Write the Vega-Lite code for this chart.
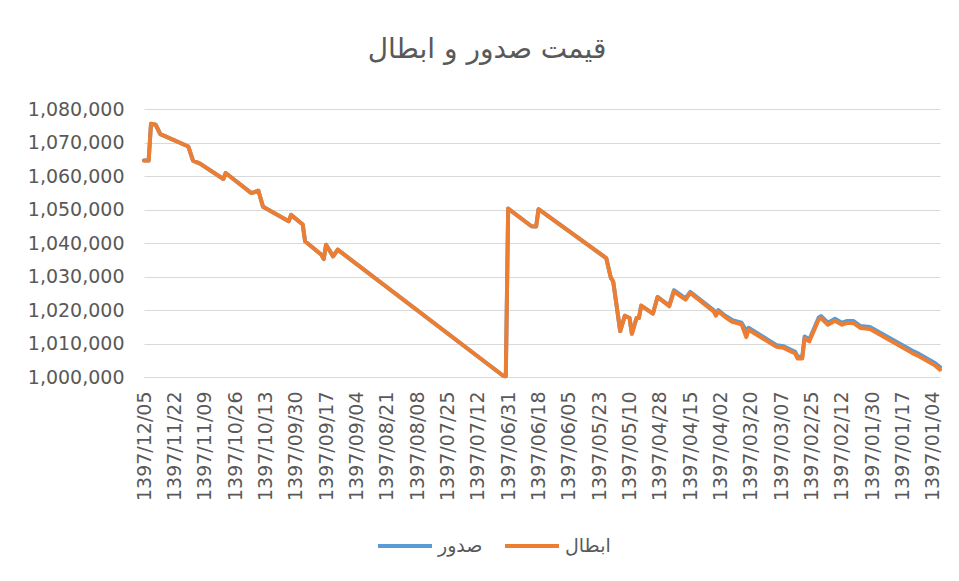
{
  "$schema": "https://vega.github.io/schema/vega-lite/v6.json",
  "autosize": {"type": "none"},
  "padding": {"left": 144, "top": 109, "right": 19, "bottom": 204},
  "width": 796,
  "height": 268,
  "background": "white",
  "title": {
    "text": "قیمت صدور و ابطال",
    "font": "DejaVu Sans",
    "fontSize": 28,
    "fontWeight": "normal",
    "color": "#595959",
    "anchor": "middle",
    "dx": -55,
    "offset": 36
  },
  "datasets": {
    "prices": [
      {"day": 342, "series": "صدور", "price": 1064600},
      {"day": 340, "series": "صدور", "price": 1064600},
      {"day": 339, "series": "صدور", "price": 1075600},
      {"day": 337, "series": "صدور", "price": 1075300},
      {"day": 335, "series": "صدور", "price": 1072500},
      {"day": 323, "series": "صدور", "price": 1068800},
      {"day": 321, "series": "صدور", "price": 1064600},
      {"day": 318, "series": "صدور", "price": 1063700},
      {"day": 308, "series": "صدور", "price": 1059100},
      {"day": 307, "series": "صدور", "price": 1060900},
      {"day": 296, "series": "صدور", "price": 1054900},
      {"day": 293, "series": "صدور", "price": 1055600},
      {"day": 291, "series": "صدور", "price": 1050800},
      {"day": 280, "series": "صدور", "price": 1046500},
      {"day": 279, "series": "صدور", "price": 1048400},
      {"day": 274, "series": "صدور", "price": 1045500},
      {"day": 273, "series": "صدور", "price": 1040500},
      {"day": 266, "series": "صدور", "price": 1036500},
      {"day": 265, "series": "صدور", "price": 1035200},
      {"day": 264, "series": "صدور", "price": 1039500},
      {"day": 261, "series": "صدور", "price": 1036000},
      {"day": 259, "series": "صدور", "price": 1038000},
      {"day": 188, "series": "صدور", "price": 1000300},
      {"day": 187, "series": "صدور", "price": 1000200},
      {"day": 186, "series": "صدور", "price": 1050300},
      {"day": 176, "series": "صدور", "price": 1045000},
      {"day": 174, "series": "صدور", "price": 1044900},
      {"day": 173, "series": "صدور", "price": 1050100},
      {"day": 144, "series": "صدور", "price": 1035500},
      {"day": 142, "series": "صدور", "price": 1029600},
      {"day": 141, "series": "صدور", "price": 1028500},
      {"day": 138, "series": "صدور", "price": 1013700},
      {"day": 136, "series": "صدور", "price": 1018300},
      {"day": 134, "series": "صدور", "price": 1017600},
      {"day": 133, "series": "صدور", "price": 1012900},
      {"day": 131, "series": "صدور", "price": 1017600},
      {"day": 130, "series": "صدور", "price": 1017600},
      {"day": 129, "series": "صدور", "price": 1021300},
      {"day": 124, "series": "صدور", "price": 1018900},
      {"day": 122, "series": "صدور", "price": 1023900},
      {"day": 117, "series": "صدور", "price": 1021300},
      {"day": 115, "series": "صدور", "price": 1025900},
      {"day": 110, "series": "صدور", "price": 1023500},
      {"day": 108, "series": "صدور", "price": 1025400},
      {"day": 98, "series": "صدور", "price": 1020000},
      {"day": 97, "series": "صدور", "price": 1018800},
      {"day": 96, "series": "صدور", "price": 1020000},
      {"day": 93, "series": "صدور", "price": 1018300},
      {"day": 90, "series": "صدور", "price": 1017000},
      {"day": 86, "series": "صدور", "price": 1016200},
      {"day": 84, "series": "صدور", "price": 1013800},
      {"day": 83, "series": "صدور", "price": 1014700},
      {"day": 71, "series": "صدور", "price": 1009500},
      {"day": 68, "series": "صدور", "price": 1009200},
      {"day": 63, "series": "صدور", "price": 1007500},
      {"day": 62, "series": "صدور", "price": 1006000},
      {"day": 60, "series": "صدور", "price": 1006100},
      {"day": 59, "series": "صدور", "price": 1012100},
      {"day": 57, "series": "صدور", "price": 1011200},
      {"day": 53, "series": "صدور", "price": 1017700},
      {"day": 52, "series": "صدور", "price": 1018200},
      {"day": 49, "series": "صدور", "price": 1016200},
      {"day": 46, "series": "صدور", "price": 1017400},
      {"day": 43, "series": "صدور", "price": 1016200},
      {"day": 41, "series": "صدور", "price": 1016700},
      {"day": 38, "series": "صدور", "price": 1016700},
      {"day": 35, "series": "صدور", "price": 1015200},
      {"day": 31, "series": "صدور", "price": 1014900},
      {"day": 13, "series": "صدور", "price": 1007900},
      {"day": 10, "series": "صدور", "price": 1006900},
      {"day": 3, "series": "صدور", "price": 1004100},
      {"day": 1, "series": "صدور", "price": 1003000},

      {"day": 342, "series": "ابطال", "price": 1064600},
      {"day": 340, "series": "ابطال", "price": 1064600},
      {"day": 339, "series": "ابطال", "price": 1075600},
      {"day": 337, "series": "ابطال", "price": 1075300},
      {"day": 335, "series": "ابطال", "price": 1072500},
      {"day": 323, "series": "ابطال", "price": 1068800},
      {"day": 321, "series": "ابطال", "price": 1064600},
      {"day": 318, "series": "ابطال", "price": 1063700},
      {"day": 308, "series": "ابطال", "price": 1059100},
      {"day": 307, "series": "ابطال", "price": 1060900},
      {"day": 296, "series": "ابطال", "price": 1054900},
      {"day": 293, "series": "ابطال", "price": 1055600},
      {"day": 291, "series": "ابطال", "price": 1050800},
      {"day": 280, "series": "ابطال", "price": 1046500},
      {"day": 279, "series": "ابطال", "price": 1048400},
      {"day": 274, "series": "ابطال", "price": 1045500},
      {"day": 273, "series": "ابطال", "price": 1040500},
      {"day": 266, "series": "ابطال", "price": 1036500},
      {"day": 265, "series": "ابطال", "price": 1035200},
      {"day": 264, "series": "ابطال", "price": 1039500},
      {"day": 261, "series": "ابطال", "price": 1036000},
      {"day": 259, "series": "ابطال", "price": 1038000},
      {"day": 188, "series": "ابطال", "price": 1000300},
      {"day": 187, "series": "ابطال", "price": 1000200},
      {"day": 186, "series": "ابطال", "price": 1050300},
      {"day": 176, "series": "ابطال", "price": 1045000},
      {"day": 174, "series": "ابطال", "price": 1044900},
      {"day": 173, "series": "ابطال", "price": 1050100},
      {"day": 144, "series": "ابطال", "price": 1035500},
      {"day": 142, "series": "ابطال", "price": 1029600},
      {"day": 141, "series": "ابطال", "price": 1028500},
      {"day": 138, "series": "ابطال", "price": 1013700},
      {"day": 136, "series": "ابطال", "price": 1018300},
      {"day": 134, "series": "ابطال", "price": 1017600},
      {"day": 133, "series": "ابطال", "price": 1012900},
      {"day": 131, "series": "ابطال", "price": 1017600},
      {"day": 130, "series": "ابطال", "price": 1017600},
      {"day": 129, "series": "ابطال", "price": 1021300},
      {"day": 124, "series": "ابطال", "price": 1018900},
      {"day": 122, "series": "ابطال", "price": 1023900},
      {"day": 117, "series": "ابطال", "price": 1021100},
      {"day": 115, "series": "ابطال", "price": 1025500},
      {"day": 110, "series": "ابطال", "price": 1023100},
      {"day": 108, "series": "ابطال", "price": 1025100},
      {"day": 98, "series": "ابطال", "price": 1019600},
      {"day": 97, "series": "ابطال", "price": 1018300},
      {"day": 96, "series": "ابطال", "price": 1019600},
      {"day": 93, "series": "ابطال", "price": 1017900},
      {"day": 90, "series": "ابطال", "price": 1016500},
      {"day": 86, "series": "ابطال", "price": 1015700},
      {"day": 84, "series": "ابطال", "price": 1011900},
      {"day": 83, "series": "ابطال", "price": 1014100},
      {"day": 71, "series": "ابطال", "price": 1009000},
      {"day": 68, "series": "ابطال", "price": 1008700},
      {"day": 63, "series": "ابطال", "price": 1007000},
      {"day": 62, "series": "ابطال", "price": 1005500},
      {"day": 60, "series": "ابطال", "price": 1005500},
      {"day": 59, "series": "ابطال", "price": 1011600},
      {"day": 57, "series": "ابطال", "price": 1010600},
      {"day": 53, "series": "ابطال", "price": 1017100},
      {"day": 52, "series": "ابطال", "price": 1017600},
      {"day": 49, "series": "ابطال", "price": 1015600},
      {"day": 46, "series": "ابطال", "price": 1016800},
      {"day": 43, "series": "ابطال", "price": 1015600},
      {"day": 41, "series": "ابطال", "price": 1016100},
      {"day": 38, "series": "ابطال", "price": 1016100},
      {"day": 35, "series": "ابطال", "price": 1014600},
      {"day": 31, "series": "ابطال", "price": 1014300},
      {"day": 13, "series": "ابطال", "price": 1007200},
      {"day": 10, "series": "ابطال", "price": 1006200},
      {"day": 3, "series": "ابطال", "price": 1003400},
      {"day": 1, "series": "ابطال", "price": 1002200}
    ]
  },
  "data": {"name": "prices"},
  "encoding": {
    "x": {
      "field": "day",
      "type": "quantitative",
      "scale": {"domain": [1, 342], "reverse": true, "nice": false, "zero": false},
      "axis": {
        "title": null,
        "values": [4, 17, 30, 43, 56, 69, 82, 95, 108, 121, 134, 147, 160, 173, 186, 199, 212, 225, 238, 251, 264, 277, 290, 303, 316, 329, 342],
        "labelExpr": "['1397/01/04','1397/01/17','1397/01/30','1397/02/12','1397/02/25','1397/03/07','1397/03/20','1397/04/02','1397/04/15','1397/04/28','1397/05/10','1397/05/23','1397/06/05','1397/06/18','1397/06/31','1397/07/12','1397/07/25','1397/08/08','1397/08/21','1397/09/04','1397/09/17','1397/09/30','1397/10/13','1397/10/26','1397/11/09','1397/11/22','1397/12/05'][round((datum.value - 4) / 13)]",
        "labelAngle": 270,
        "labelAlign": "right",
        "labelBaseline": "middle",
        "labelFont": "DejaVu Sans",
        "labelFontSize": 19,
        "labelColor": "#595959",
        "labelPadding": 14,
        "labelOverlap": false,
        "labelBound": false,
        "labelFlush": false,
        "ticks": false,
        "grid": false,
        "domain": true,
        "domainColor": "#D9D9D9",
        "domainWidth": 1
      }
    },
    "y": {
      "field": "price",
      "type": "quantitative",
      "scale": {"domain": [1000000, 1080000], "nice": false, "zero": false},
      "axis": {
        "title": null,
        "values": [1000000, 1010000, 1020000, 1030000, 1040000, 1050000, 1060000, 1070000, 1080000],
        "format": ",d",
        "labelFont": "DejaVu Sans",
        "labelFontSize": 19,
        "labelColor": "#595959",
        "labelPadding": 20,
        "ticks": false,
        "domain": false,
        "grid": true,
        "gridColor": "#D9D9D9",
        "gridWidth": 1
      }
    },
    "color": {
      "field": "series",
      "type": "nominal",
      "scale": {"domain": ["صدور", "ابطال"], "range": ["#5B9BD5", "#ED7D31"]},
      "legend": {
        "title": null,
        "orient": "none",
        "legendX": 232,
        "legendY": 408,
        "direction": "horizontal",
        "symbolType": "stroke",
        "symbolSize": 2916,
        "symbolStrokeWidth": 4,
        "labelFont": "DejaVu Sans",
        "labelFontSize": 19,
        "labelColor": "#595959",
        "labelOffset": 4,
        "columnPadding": 14,
        "padding": 0
      }
    }
  },
  "layer": [
    {
      "transform": [{"filter": "datum.series === 'صدور'"}],
      "mark": {"type": "line", "strokeWidth": 4, "strokeJoin": "round", "strokeCap": "round"}
    },
    {
      "transform": [{"filter": "datum.series === 'ابطال'"}],
      "mark": {"type": "line", "strokeWidth": 4, "strokeJoin": "round", "strokeCap": "round"}
    }
  ],
  "config": {"view": {"stroke": null}}
}
